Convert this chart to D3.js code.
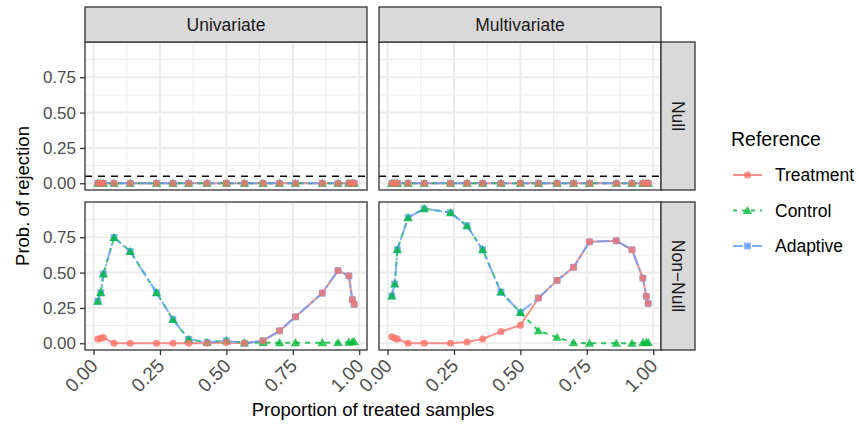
<!DOCTYPE html>
<html>
<head>
<meta charset="utf-8">
<script src="https://cdn.jsdelivr.net/npm/d3@7"></script>
<style>
  html, body { margin: 0; padding: 0; background: #fff; }
  svg { display: block; font-family: "Liberation Sans", Arial, Helvetica, sans-serif; }
</style>
</head>
<body>
<svg id="chart" width="858" height="426"></svg>
<script>
// Proportion of treated samples (shared across all panels)
const proportions = [0.016, 0.027, 0.037, 0.077, 0.138, 0.237, 0.299, 0.358, 0.427, 0.5,
                     0.568, 0.638, 0.70, 0.76, 0.861, 0.92, 0.961, 0.974, 0.981];

const methods = ["Univariate", "Multivariate"];
const scenarios = ["Null", "Non\u2212Null"];
const references = ["Treatment", "Control", "Adaptive"];
const yTicks = [0, 0.25, 0.5, 0.75];
const xTicks = [0, 0.25, 0.5, 0.75, 1];
const alphaLevel = 0.05;

// Null scenario, univariate
const nullUniTreatment = [0, 0, 0, 0, 0, 0, 0, 0, 0, 0, 0, 0, 0, 0, 0, 0, 0, 0, 0];
const nullUniControl   = [0, 0, 0, 0, 0, 0, 0, 0, 0, 0, 0, 0, 0, 0, 0, 0, 0, 0, 0];
const nullUniAdaptive  = [0, 0, 0, 0, 0, 0, 0, 0, 0, 0, 0, 0, 0, 0, 0, 0, 0, 0, 0];
// Null scenario, multivariate
const nullMultiTreatment = [0, 0, 0, 0, 0, 0, 0, 0, 0, 0, 0, 0, 0, 0, 0, 0, 0, 0, 0];
const nullMultiControl   = [0, 0, 0, 0, 0, 0, 0, 0, 0, 0, 0, 0, 0, 0, 0, 0, 0, 0, 0];
const nullMultiAdaptive  = [0, 0, 0, 0, 0, 0, 0, 0, 0, 0, 0, 0, 0, 0, 0, 0, 0, 0, 0];

// Non-null scenario, univariate
const altUniTreatment = [0.03, 0.035, 0.04, 0, 0, 0, 0, 0, 0, 0.005,
                         0, 0.018, 0.088, 0.187, 0.355, 0.515, 0.477, 0.309, 0.276];
const altUniControl   = [0.297, 0.358, 0.49, 0.749, 0.65, 0.358, 0.168, 0.028, 0.007, 0.018,
                         0.004, 0.005, 0.004, 0.004, 0.004, 0.005, 0.008, 0.01, 0.012];
const altUniAdaptive  = [0.297, 0.358, 0.49, 0.749, 0.65, 0.358, 0.168, 0.028, 0.007, 0.018,
                         0, 0.018, 0.088, 0.187, 0.355, 0.515, 0.477, 0.309, 0.276];
// Non-null scenario, multivariate
const altMultiTreatment = [0.046, 0.035, 0.03, 0, 0, 0, 0.009, 0.03, 0.082, 0.128,
                           0.32, 0.445, 0.538, 0.718, 0.725, 0.662, 0.461, 0.332, 0.281];
const altMultiControl   = [0.334, 0.42, 0.662, 0.889, 0.952, 0.924, 0.831, 0.662, 0.362, 0.218,
                           0.088, 0.042, 0.004, 0, 0, 0, 0.004, 0.006, 0.006];
const altMultiAdaptive  = [0.334, 0.42, 0.662, 0.889, 0.952, 0.924, 0.831, 0.662, 0.362, 0.218,
                           0.32, 0.445, 0.538, 0.718, 0.725, 0.662, 0.461, 0.332, 0.281];

const panelSeries = {
  "Null|Univariate":   [nullUniTreatment, nullUniControl, nullUniAdaptive],
  "Null|Multivariate": [nullMultiTreatment, nullMultiControl, nullMultiAdaptive],
  "Non\u2212Null|Univariate":   [altUniTreatment, altUniControl, altUniAdaptive],
  "Non\u2212Null|Multivariate": [altMultiTreatment, altMultiControl, altMultiAdaptive]
};

const colors = { Treatment: "#F8766D", Control: "#00BA38", Adaptive: "#619CFF" };
const dashes = { Treatment: null, Control: "5,5", Adaptive: "12,3,3,3" };
const symbols = { Treatment: d3.symbolCircle, Control: d3.symbolTriangle, Adaptive: d3.symbolSquare };
const symbolSizes = { Treatment: 40, Control: 38, Adaptive: 46 };

// layout
const colX = [85, 379];
const panelW = 282;
const rowY = [42, 202];
const panelH = 148;
const stripH = 35;
const stripW = 34;

const svg = d3.select("#chart");

// shared scales (5% expansion around the data range)
const allY = Object.values(panelSeries).flat(2);
const xMin = d3.min(proportions), xMax = d3.max(proportions);
const xPad = (xMax - xMin) * 0.05;
const yMin = d3.min(allY), yMax = d3.max(allY);
const yPad = (yMax - yMin) * 0.05;

const x = d3.scaleLinear().domain([xMin - xPad, xMax + xPad]).range([0, panelW]);
const y = d3.scaleLinear().domain([yMin - yPad, yMax + yPad]).range([panelH, 0]);

const line = d3.line().x(d => x(d[0])).y(d => y(d[1]));

scenarios.forEach((scen, ri) => {
  methods.forEach((meth, ci) => {
    const g = svg.append("g").attr("transform", `translate(${colX[ci]},${rowY[ri]})`);

    // background and grid
    g.append("rect").attr("width", panelW).attr("height", panelH).attr("fill", "#fff");
    const minorX = xTicks.slice(1).map((t, i) => (t + xTicks[i]) / 2);
    const minorY = yTicks.map(t => t + 0.125);
    g.selectAll(".mgx").data(minorX).join("line")
      .attr("x1", d => x(d)).attr("x2", d => x(d)).attr("y1", 0).attr("y2", panelH)
      .attr("stroke", "#EBEBEB").attr("stroke-width", 1);
    g.selectAll(".mgy").data(minorY).join("line")
      .attr("y1", d => y(d)).attr("y2", d => y(d)).attr("x1", 0).attr("x2", panelW)
      .attr("stroke", "#EBEBEB").attr("stroke-width", 1);
    g.selectAll(".gx").data(xTicks).join("line")
      .attr("x1", d => x(d)).attr("x2", d => x(d)).attr("y1", 0).attr("y2", panelH)
      .attr("stroke", "#EBEBEB").attr("stroke-width", 2);
    g.selectAll(".gy").data(yTicks).join("line")
      .attr("y1", d => y(d)).attr("y2", d => y(d)).attr("x1", 0).attr("x2", panelW)
      .attr("stroke", "#EBEBEB").attr("stroke-width", 2);

    const series = panelSeries[`${scen}|${meth}`];
    const marks = g.append("g");

    // lines: Treatment, Control, then Adaptive on top
    references.forEach((ref, k) => {
      const pts = proportions.map((p, i) => [p, series[k][i]]);
      marks.append("path").attr("d", line(pts))
        .attr("fill", "none").attr("stroke", colors[ref]).attr("stroke-width", 2)
        .attr("stroke-opacity", 0.8)
        .attr("stroke-dasharray", dashes[ref]);
    });

    // nominal level
    if (ri === 0) {
      g.append("line").attr("x1", 0).attr("x2", panelW)
        .attr("y1", y(alphaLevel)).attr("y2", y(alphaLevel))
        .attr("stroke", "#000").attr("stroke-width", 1.6).attr("stroke-dasharray", "7,6");
    }

    // points: Adaptive underneath, Treatment on top
    ["Adaptive", "Control", "Treatment"].forEach(ref => {
      const k = references.indexOf(ref);
      const sym = d3.symbol().type(symbols[ref]).size(symbolSizes[ref]);
      marks.selectAll(null).data(proportions.map((p, i) => [p, series[k][i]])).join("path")
        .attr("d", sym)
        .attr("transform", d => `translate(${x(d[0])},${y(d[1]) + (ref === "Control" ? 0.8 : 0)})`)
        .attr("fill", colors[ref]).attr("fill-opacity", 0.8);
    });

    // border
    g.append("rect").attr("width", panelW).attr("height", panelH)
      .attr("fill", "none").attr("stroke", "#333").attr("stroke-width", 1.3);

    // y axis (left column)
    if (ci === 0) {
      const ya = g.append("g").call(d3.axisLeft(y).tickValues(yTicks).tickFormat(d3.format(".2f")).tickSize(5).tickPadding(4));
      ya.select(".domain").remove();
      ya.selectAll("line").attr("stroke", "#333").attr("stroke-width", 1.3);
      ya.selectAll("text").attr("fill", "#4D4D4D").style("font-size", "17px")
        .style("font-family", "'Liberation Sans', Arial, sans-serif");
    }

    // x axis (bottom row), labels at 45 degrees ending under each tick
    if (ri === 1) {
      const xa = g.append("g").attr("transform", `translate(0,${panelH})`)
        .call(d3.axisBottom(x).tickValues(xTicks).tickFormat(d3.format(".2f")).tickSize(5));
      xa.select(".domain").remove();
      xa.selectAll("line").attr("stroke", "#333").attr("stroke-width", 1.3);
      xa.selectAll("text").attr("fill", "#4D4D4D").style("font-size", "19px")
        .style("font-family", "'Liberation Sans', Arial, sans-serif")
        .attr("text-anchor", "end").attr("x", 0).attr("y", 0).attr("dy", 0)
        .attr("transform", "translate(5,17) rotate(-45)");
    }

    // top strips
    if (ri === 0) {
      const s = svg.append("g").attr("transform", `translate(${colX[ci]},${rowY[0] - stripH})`);
      s.append("rect").attr("width", panelW).attr("height", stripH)
        .attr("fill", "#D9D9D9").attr("stroke", "#333").attr("stroke-width", 1.3);
      s.append("text").attr("x", panelW / 2).attr("y", stripH / 2).attr("dy", "0.35em")
        .attr("text-anchor", "middle").attr("fill", "#1A1A1A").style("font-size", "17.5px").text(meth);
    }
    // right strips
    if (ci === 1) {
      const s = svg.append("g").attr("transform", `translate(${colX[1] + panelW},${rowY[ri]})`);
      s.append("rect").attr("width", stripW).attr("height", panelH)
        .attr("fill", "#D9D9D9").attr("stroke", "#333").attr("stroke-width", 1.3);
      s.append("text").attr("transform", `translate(${stripW / 2},${panelH / 2}) rotate(90)`)
        .attr("dy", "0.35em").attr("text-anchor", "middle").attr("fill", "#1A1A1A")
        .style("font-size", "17.5px").text(scen);
    }
  });
});

// axis titles
svg.append("text").attr("x", (colX[0] + colX[1] + panelW) / 2).attr("y", 416)
  .attr("text-anchor", "middle").attr("fill", "#000").style("font-size", "18.5px")
  .text("Proportion of treated samples");
svg.append("text").attr("transform", `translate(29,${(rowY[0] + rowY[1] + panelH) / 2}) rotate(-90)`)
  .attr("text-anchor", "middle").attr("fill", "#000").style("font-size", "18.5px")
  .text("Prob. of rejection");

// legend
const lg = svg.append("g").attr("transform", "translate(731,0)");
lg.append("text").attr("x", 0).attr("y", 146).attr("fill", "#000").style("font-size", "19.5px").text("Reference");
references.forEach((ref, i) => {
  const cy = 175 + i * 35.5;
  lg.append("line").attr("x1", 2).attr("x2", 31).attr("y1", cy).attr("y2", cy)
    .attr("stroke", colors[ref]).attr("stroke-width", 2).attr("stroke-opacity", 0.8)
    .attr("stroke-dasharray", dashes[ref] ? (ref === "Control" ? "4,5" : "10,3,3,3") : null);
  lg.append("path").attr("d", d3.symbol().type(symbols[ref]).size(symbolSizes[ref])())
    .attr("transform", `translate(16.5,${cy + (ref === "Control" ? 0.8 : 0)})`)
    .attr("fill", colors[ref]).attr("fill-opacity", 0.8);
  lg.append("text").attr("x", 44).attr("y", cy).attr("dy", "0.35em").attr("fill", "#000")
    .style("font-size", "17.5px").text(ref);
});
</script>
</body>
</html>
